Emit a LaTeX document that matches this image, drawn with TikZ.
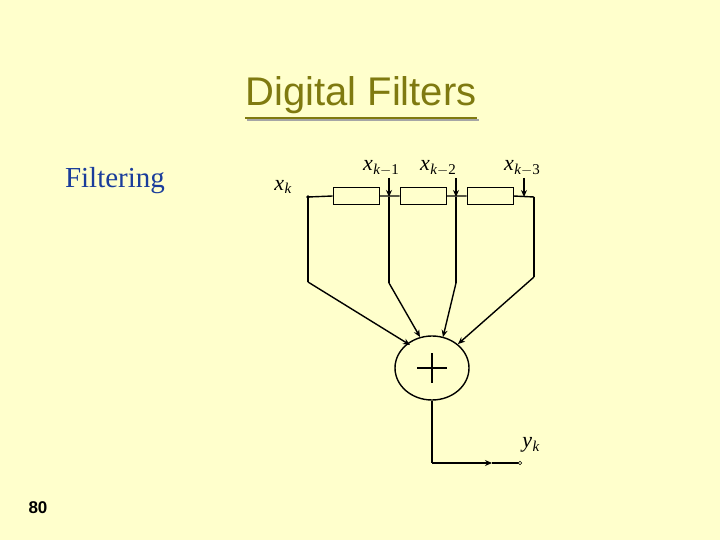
\documentclass[tikz,border=0pt]{standalone}
\usepackage{fontspec}
\setmainfont{Liberation Serif}
\newfontfamily\arialf{Liberation Sans}
\usetikzlibrary{arrows.meta,shapes.geometric}
\definecolor{bg}{HTML}{FFFFCC}
\definecolor{olive}{HTML}{7F7A10}
\definecolor{titleblue}{HTML}{1A3D9B}
\tikzset{
  wire/.style={line width=1.4pt},
  arr/.style={wire,-{Stealth[length=7pt,width=6pt]}},
  delay/.style={draw,line width=0.8pt,fill=bg,minimum width=46pt,minimum height=17pt,inner sep=0pt},
  lbl/.style={inner sep=0pt,font=\fontsize{22}{24}\selectfont}
}
\newcommand{\sym}[3]{\textit{#1}\kern0.5pt\raisebox{-0.35ex}{\fontsize{15}{16}\selectfont\textit{#2}#3}}
\begin{document}
\begin{tikzpicture}[x=1pt,y=-1pt]
\fill[bg] (0,0) rectangle (720,540);
\useasboundingbox (0,0) rectangle (720,540);
% title
\node[text=olive,font=\arialf\fontsize{40}{44}\selectfont,inner sep=0pt] (title) at (361,95) {Digital Filters};
\draw[black!35,line width=2pt] ([xshift=2pt,yshift=-6pt]title.south west) -- ([xshift=2pt,yshift=-6pt]title.south east);
\draw[olive,line width=2pt] ([yshift=-4pt]title.south west) -- ([yshift=-4pt]title.south east);
\node[text=titleblue,font=\fontsize{29}{32}\selectfont,inner sep=0pt] (filt) at (115,181) {Filtering};
\node[font=\arialf\bfseries\fontsize{17}{20}\selectfont,inner sep=0pt] (num) at (38,508) {80};
% delay line
\coordinate (in) at (308,197);
\node[delay] (d1) at (356,196) {};
\node[delay] (d2) at (423,196) {};
\node[delay] (d3) at (490,196) {};
\coordinate (end) at (534,197);
\draw[wire] (in) -- (d1.west) (d1.east) -- (d2.west) (d2.east) -- (d3.west) (d3.east) -- (end);
\fill (in) circle (1.8pt);
% taps
\coordinate (t1) at (389,197); \coordinate (t2) at (456,197); \coordinate (t3) at (524,197);
\coordinate (a1) at (389,178); \coordinate (a2) at (456,178); \coordinate (a3) at (524,178);
\draw[arr] (a1) -- (t1); \draw[arr] (a2) -- (t2); \draw[arr] (a3) -- (t3);
% summer
\node[draw,line width=1.4pt,ellipse,minimum width=74pt,minimum height=64pt,inner sep=0pt] (sum) at (432,368) {};
\draw[line width=1.8pt] (417,368) -- (447,368) (432,353) -- (432,383);
\coordinate (b0) at (308,282); \coordinate (b1) at (389,283);
\coordinate (b2) at (456,283); \coordinate (b3) at (534,277);
\coordinate (e0) at (410,345); \coordinate (e1) at (420,337);
\coordinate (e2) at (443,337); \coordinate (e3) at (458,344);
\draw[wire] (in) -- (b0); \draw[arr] (b0) -- (e0);
\draw[wire] (t1) -- (b1); \draw[arr] (b1) -- (e1);
\draw[wire] (t2) -- (b2); \draw[arr] (b2) -- (e2);
\draw[wire] (end) -- (b3); \draw[arr] (b3) -- (e3);
% output
\coordinate (c1) at (432,463); \coordinate (mid) at (492,463); \coordinate (out) at (520,463);
\draw[wire] (sum.south) -- (c1);
\draw[arr] (c1) -- (mid);
\draw[wire] (mid) -- (out);
\draw[fill=bg,line width=0.6pt] (out) circle (1.8pt);
% labels
\node[lbl] (lx) at (283,187) {\sym{x}{k}{}};
\node[lbl] (l1) at (381,168) {\sym{x}{k}{$-$1}};
\node[lbl] (l2) at (438,168) {\sym{x}{k}{$-$2}};
\node[lbl] (l3) at (522,168) {\sym{x}{k}{$-$3}};
\node[lbl] (ly) at (531,445) {\sym{y}{k}{}};
\end{tikzpicture}
\end{document}
